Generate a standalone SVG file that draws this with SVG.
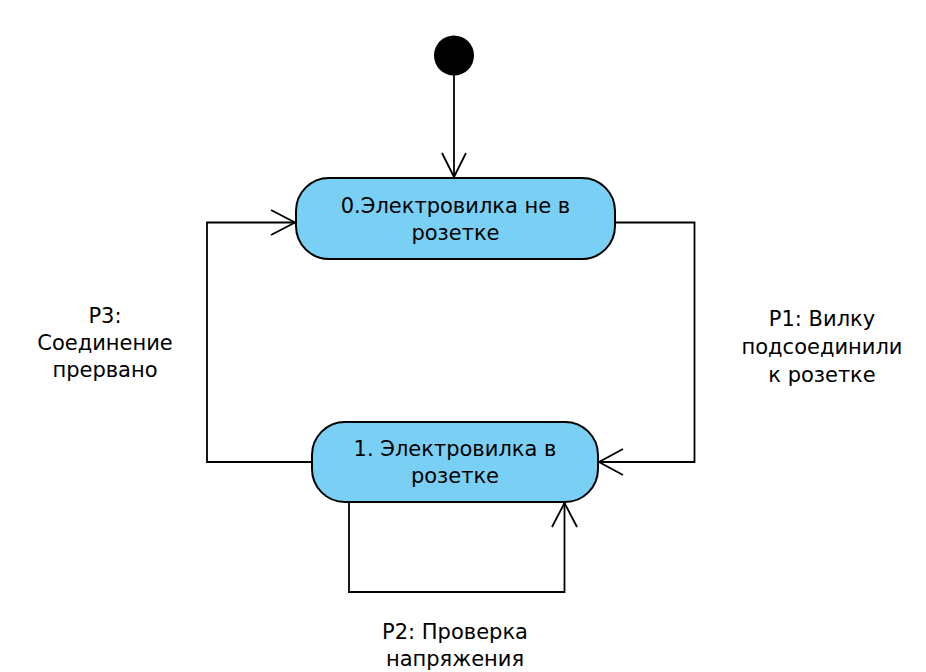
<svg xmlns="http://www.w3.org/2000/svg" width="926" height="672" viewBox="0 0 926 672">
<style>
.state{fill:#7acff5;stroke:#000;stroke-width:2}
.edge{fill:none;stroke:#000;stroke-width:1.8}
.head{fill:none;stroke:#000;stroke-width:1.8}
text{font-family:"DejaVu Sans",Verdana,sans-serif;font-size:21px;fill:#000;text-anchor:middle}
</style>
<rect width="926" height="672" fill="#fff"/>
<g id="initial">
<circle cx="454" cy="55.5" r="20" fill="#000"/>
</g>
<g id="state0">
<rect class="state" x="296" y="178" width="319" height="81" rx="33" ry="33"/>
<text x="455.5" y="213">0.Электровилка не в</text>
<text x="455.5" y="240">розетке</text>
</g>
<g id="state1">
<rect class="state" x="312" y="422" width="286" height="80" rx="33" ry="33"/>
<text x="455" y="456">1. Электровилка в</text>
<text x="455" y="483">розетке</text>
</g>
<g id="connectors">
<path class="edge" d="M454 75 V177"/>
<path class="head" d="M442 153 L454 177 L466 153"/>
<path class="edge" d="M312 462 H207 V222.5 H295"/>
<path class="head" d="M271 210 L295 222.5 L271 235"/>
<path class="edge" d="M615 222.5 H694.5 V462 H599"/>
<path class="head" d="M623 449 L599 462 L623 475"/>
<path class="edge" d="M349 502 V592 H564.5 V503"/>
<path class="head" d="M552 527 L564.5 503 L577 527"/>
</g>
<g id="labels">
<text x="105" y="323">P3:</text>
<text x="105" y="350">Соединение</text>
<text x="105" y="377">прервано</text>
<text x="822" y="326">P1: Вилку</text>
<text x="822" y="354">подсоединили</text>
<text x="822" y="382">к розетке</text>
<text x="455" y="639">P2: Проверка</text>
<text x="455" y="666">напряжения</text>
</g>
</svg>
